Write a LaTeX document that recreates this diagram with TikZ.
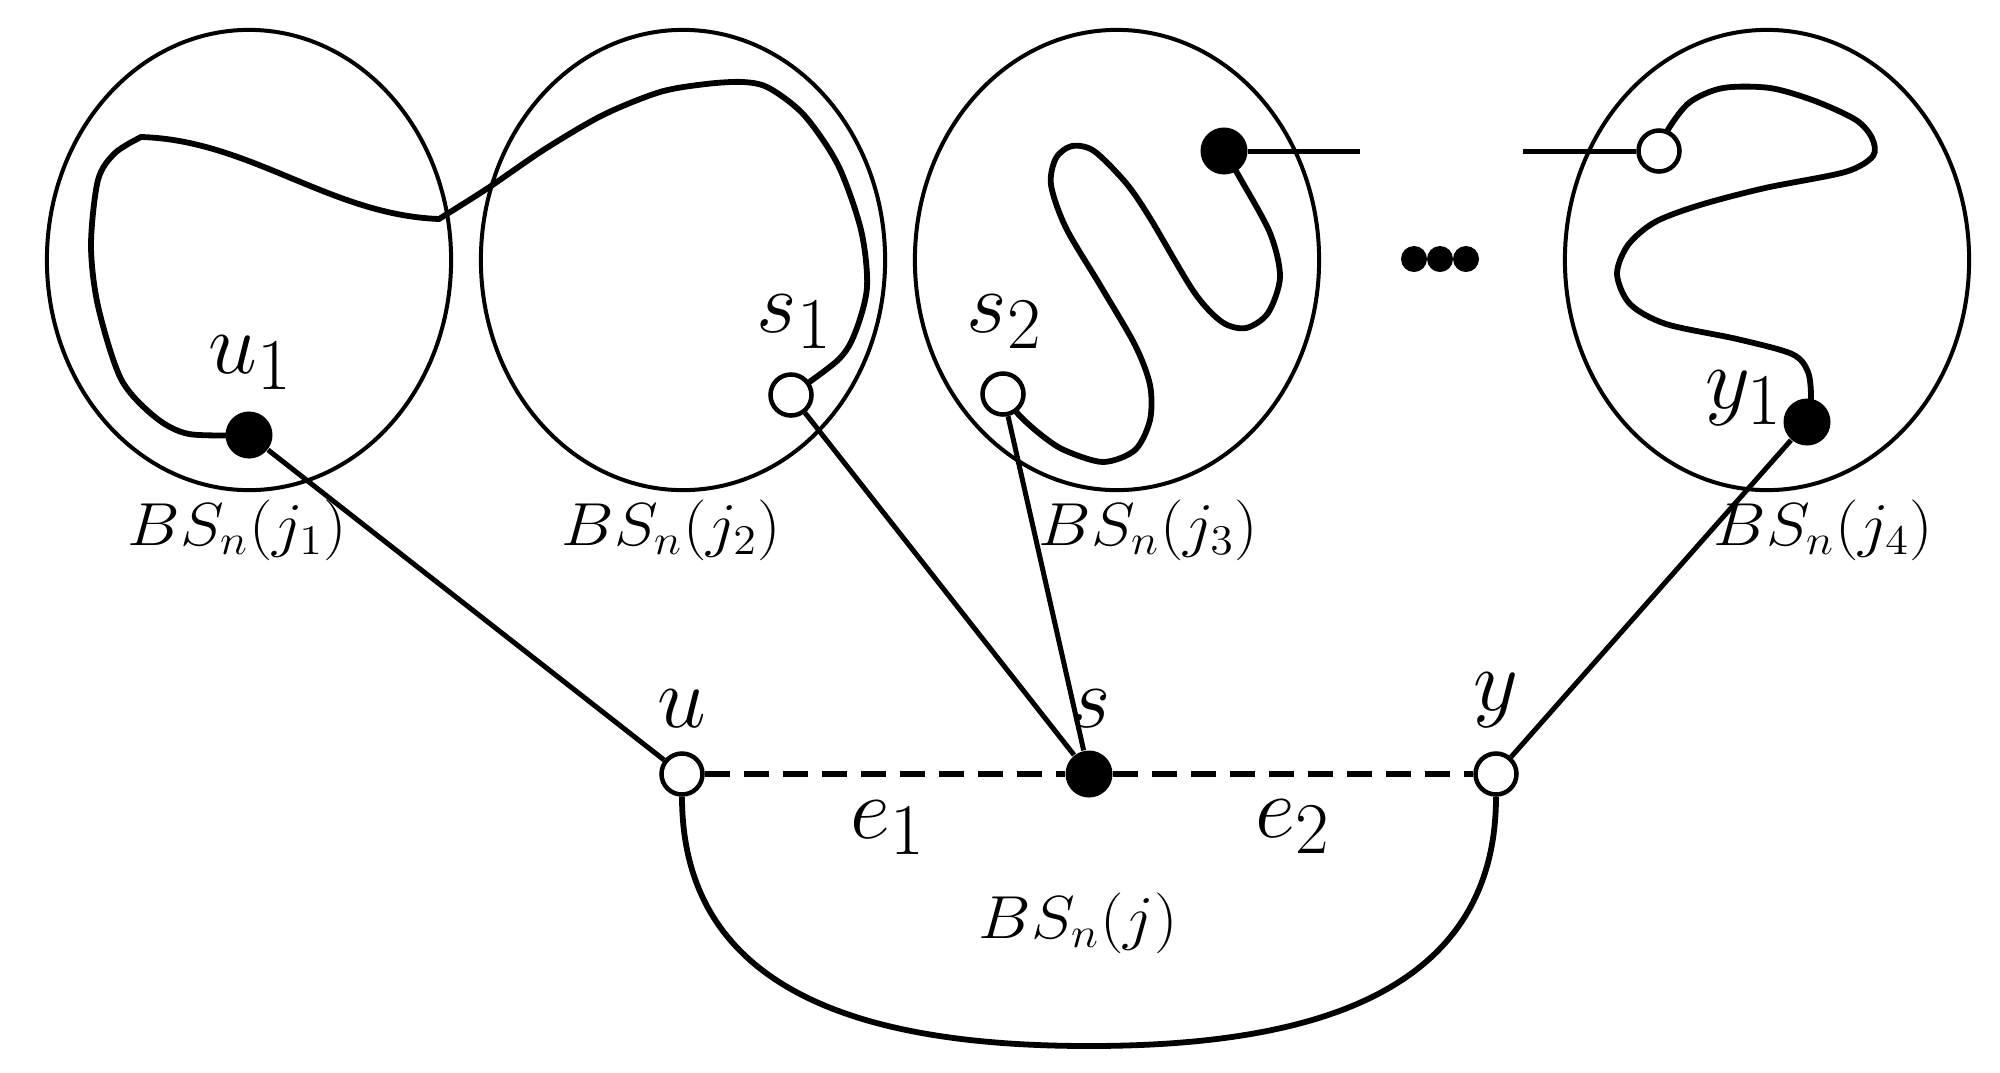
\documentclass[tikz,border=0pt]{standalone}
\usetikzlibrary{shapes.geometric}
\DeclareMathSizes{17.28}{17.28}{12}{8}
\newcommand{\bslab}[1]{\scalebox{1.09}[1]{$#1$}}
\begin{document}
\begin{tikzpicture}[x=0.01cm, y=-0.01cm,
  region/.style={draw, ellipse, line width=0.04cm, minimum width=4.04cm, minimum height=4.6cm, inner sep=0pt},
  fdot/.style={circle, fill=black, minimum size=0.47cm, inner sep=0pt},
  odot/.style={circle, draw, fill=white, line width=0.045cm, minimum size=0.41cm, inner sep=0pt},
  wire/.style={line width=0.058cm},
  conn/.style={line width=0.05cm},
  dashedge/.style={line width=0.058cm, dash pattern=on 0.25cm off 0.14cm},
  lab/.style={inner sep=0pt, font=\Huge},
  bs/.style={inner sep=0pt, font=\fontsize{17.28}{17.28}\selectfont}]
\useasboundingbox (0,0) rectangle (2000,1072);

% regions
\node[region] (E1) at (249,260) {};
\node[region] (E2) at (683,260) {};
\node[region] (E3) at (1117,260) {};
\node[region] (E4) at (1767,260) {};

% positions of vertices
\coordinate (cU1) at (249,435);
\coordinate (cS1) at (791,395);
\coordinate (cS2) at (1003,394);
\coordinate (cS3) at (1224,151);
\coordinate (cT)  at (1659,151);
\coordinate (cY1) at (1807,422);
\coordinate (h1) at (1360,151);
\coordinate (h2) at (1523,151);

% paths inside regions
\draw[wire] plot[smooth] coordinates {(cU1) (189,434) (155,417) (121,379) (98,306) (91,245) (98,180) (115,153) (141,137)}
  .. controls (250,140) and (330,215) .. (439,219)
  -- plot[smooth] coordinates {(439,219) (488,188) (545,149) (603,115) (660,92) (706,84) (743,82) (769,88) (804,115) (838,165) (861,230) (867,287) (855,333) (838,360) (cS1)};

\draw[wire] plot[smooth] coordinates {(cS2) (1019,415) (1040,434) (1064,450) (1103,462) (1135,450) (1150,420) (1150,385) (1135,345) (1100,285) (1066,228) (1051,185) (1056,158) (1072,146) (1094,151) (1126,183) (1150,218) (1194,292) (1222,322) (1246,328) (1268,313) (1280,277) (1270,233) (1240,178) (cS3)};

\draw[wire] plot[smooth] coordinates {(cT) (1669,128) (1690,102) (1723,88) (1770,88) (1815,101) (1856,120) (1872,138) (1873,156) (1845,172) (1765,188) (1700,205) (1655,222) (1628,245) (1617,274) (1630,304) (1666,324) (1737,339) (1792,354) (1808,372) (1811,400) (cY1)};

% vertices
\node[fdot] (u1) at (cU1) {};
\node[odot] (s1) at (cS1) {};
\node[odot] (s2) at (cS2) {};
\node[fdot] (s3) at (cS3) {};
\node[odot] (t)  at (cT) {};
\node[fdot] (y1) at (cY1) {};
\node[odot] (u) at (682,774) {};
\node[fdot] (s) at (1089,774) {};
\node[odot] (y) at (1496,774) {};

% short edges leaving the regions
\draw[conn] (s3) -- (h1);
\draw[conn] (h2) -- (t);

% dots
\node[fdot, minimum size=0.26cm] (d1) at (1414,259) {};
\node[fdot, minimum size=0.26cm] (d2) at (1440,259) {};
\node[fdot, minimum size=0.26cm] (d3) at (1466,259) {};

% connectors
\draw[conn] (u1) -- (u);
\draw[conn] (s1) -- (s);
\draw[conn] (s2) -- (s);
\draw[conn] (y1) -- (y);
\draw[dashedge] (u) -- (s);
\draw[dashedge] (s) -- (y);
\draw[wire] (u.south) .. controls (682,1000) and (880,1046) .. (1089,1046)
  .. controls (1298,1046) and (1496,1000) .. (y.south);

% labels
\node[lab, anchor=base west] (lu1) at (208,373) {$u_1$};
\node[lab, anchor=base west] (ls1) at (756,332) {$s_1$};
\node[lab, anchor=base west] (ls2) at (966,332) {$s_2$};
\node[lab, anchor=base west] (ly1) at (1705,408) {$y_1$};
\node[lab, anchor=south] (lu) at (682,728) {$u$};
\node[lab, anchor=south] (ls) at (1091,728) {$s$};
\node[lab, anchor=south] (ly) at (1496,728) {$y$};
\node[lab, anchor=base west] (le1) at (850,838) {$e_1$};
\node[lab, anchor=base west] (le2) at (1255,837) {$e_2$};

\node[bs, anchor=base west] (b1) at (127,545) {\bslab{BS_n(j_1)}};
\node[bs, anchor=base west] (b2) at (561,545) {\bslab{BS_n(j_2)}};
\node[bs, anchor=base west] (b3) at (1038,545) {\bslab{BS_n(j_3)}};
\node[bs, anchor=base west] (b4) at (1713,545) {\bslab{BS_n(j_4)}};
\node[bs, anchor=base west] (b0) at (978,938) {\bslab{BS_n(j)}};
\end{tikzpicture}
\end{document}
